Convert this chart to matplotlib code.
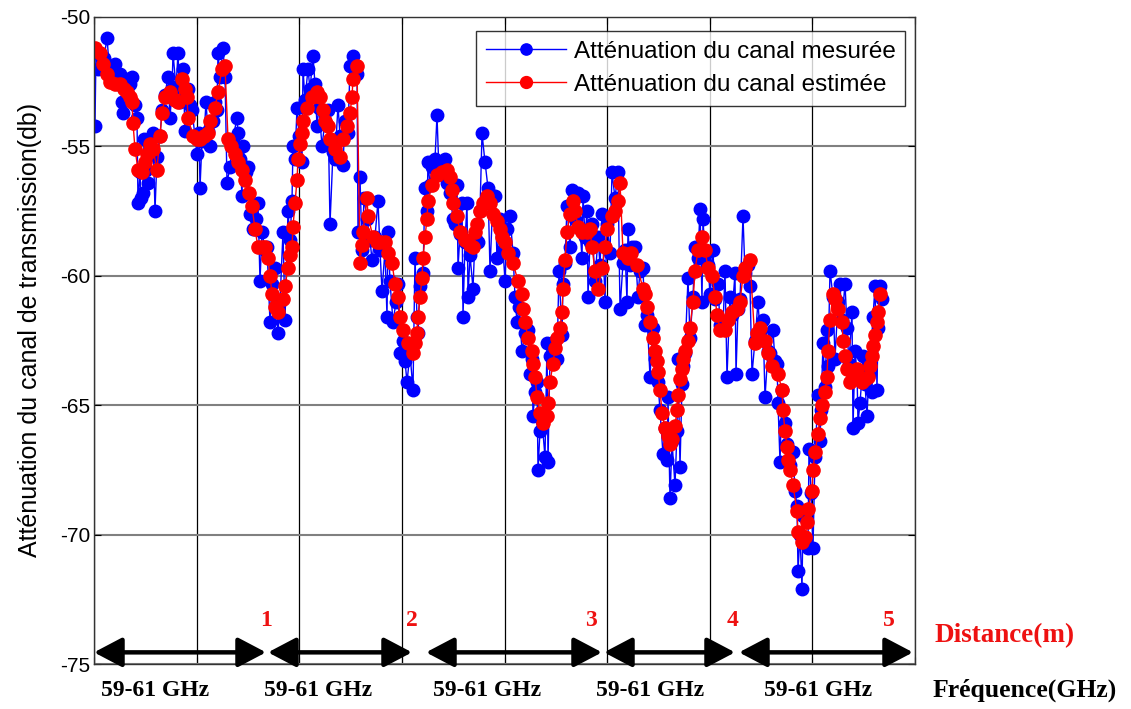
import matplotlib
matplotlib.use("Agg")
import matplotlib.pyplot as plt
import numpy as np
from matplotlib.transforms import blended_transform_factory

# (frequency sample index, attenuation in dB); 5 sweeps of 59-61 GHz placed end to end
measured = [
    (1, -54.2), (2, -51.3), (4, -52.0), (7, -51.5), (10, -51.6), (13, -50.8), (16, -52.3), (19, -52.0),
    (21, -51.8), (24, -52.6), (26, -52.2), (28, -53.3), (29, -53.7), (31, -52.5), (33, -52.4), (36, -52.6),
    (38, -52.3), (41, -53.4), (43, -53.9), (44, -57.2), (46, -56.0), (47, -57.0), (49, -56.8), (50, -54.7),
    (52, -55.9), (54, -56.4), (56, -55.2), (59, -54.5), (61, -57.5), (63, -55.4), (66, -54.6), (68, -53.6),
    (71, -53.0), (74, -52.3), (76, -53.9), (78, -52.8), (79, -51.4), (82, -52.7), (84, -51.4), (86, -53.3),
    (89, -52.0), (91, -54.4), (94, -52.8), (96, -53.4), (98, -53.6), (101, -54.6), (103, -55.3), (105, -54.5),
    (106, -56.6), (108, -54.8), (110, -54.6), (112, -53.3), (114, -54.4), (116, -55.0), (119, -54.0), (121, -53.3),
    (123, -53.6), (124, -51.4), (126, -52.3), (129, -51.2), (131, -52.3), (133, -56.4), (136, -55.8), (139, -54.7),
    (143, -53.9), (144, -54.5), (146, -55.5), (148, -56.9), (149, -55.0), (152, -56.0), (154, -55.8), (156, -57.6),
    (159, -58.2), (162, -57.8), (164, -57.2), (166, -60.2), (168, -58.3), (171, -59.0), (173, -58.9), (176, -61.8),
    (178, -60.3), (181, -59.7), (184, -62.2), (186, -61.0), (189, -58.3), (191, -61.7), (194, -57.5), (196, -58.6),
    (198, -57.1), (199, -55.0), (201, -55.5), (203, -53.5), (205, -54.6), (208, -55.6), (209, -52.0), (211, -53.2),
    (214, -52.0), (216, -52.8), (219, -51.5), (221, -52.6), (223, -54.2), (225, -53.5), (228, -55.0), (231, -54.0),
    (234, -53.6), (236, -58.0), (239, -55.2), (241, -55.5), (244, -53.4), (246, -54.6), (249, -55.7), (251, -54.0),
    (254, -54.5), (256, -51.9), (259, -51.5), (261, -52.0), (263, -52.2), (264, -58.3), (266, -56.2), (268, -59.0),
    (270, -57.0), (273, -57.8), (276, -58.6), (278, -59.4), (281, -58.5), (284, -57.1), (286, -59.0), (288, -60.6),
    (291, -59.0), (293, -61.6), (294, -58.3), (296, -60.2), (299, -61.8), (302, -61.0), (304, -60.3), (306, -63.0),
    (309, -62.5), (311, -63.3), (313, -64.1), (316, -63.0), (319, -64.4), (321, -59.3), (323, -61.6), (324, -62.2),
    (326, -60.4), (329, -59.9), (331, -56.6), (333, -57.5), (334, -55.6), (336, -56.5), (338, -55.8), (341, -55.5),
    (343, -53.8), (345, -56.0), (348, -55.7), (351, -55.5), (353, -56.4), (356, -56.8), (359, -57.8), (361, -58.0),
    (363, -56.5), (364, -59.7), (366, -58.4), (368, -57.2), (369, -61.6), (371, -58.7), (373, -57.2), (374, -60.8),
    (376, -59.2), (379, -60.5), (381, -58.5), (384, -58.7), (386, -57.5), (388, -54.5), (391, -55.6), (394, -56.6),
    (396, -59.8), (399, -56.9), (401, -56.9), (403, -59.3), (406, -57.8), (409, -59.0), (411, -60.2), (413, -58.2),
    (416, -57.7), (419, -59.1), (421, -60.8), (423, -61.8), (425, -61.2), (428, -62.9), (431, -62.2), (434, -62.1),
    (436, -63.8), (438, -63.2), (439, -65.4), (441, -64.5), (443, -64.1), (444, -67.5), (446, -66.0), (448, -65.6),
    (451, -67.0), (453, -62.6), (454, -67.2), (456, -63.1), (459, -62.6), (461, -62.5), (463, -63.2), (465, -59.8),
    (468, -62.3), (469, -60.3), (471, -59.5), (473, -57.3), (476, -58.9), (478, -56.7), (481, -57.8), (484, -56.8),
    (486, -58.2), (488, -59.3), (489, -56.9), (491, -58.5), (493, -57.5), (494, -60.8), (496, -58.7), (498, -58.0),
    (501, -60.2), (504, -58.5), (506, -59.6), (508, -57.6), (511, -61.0), (513, -58.0), (516, -59.1), (518, -56.0),
    (521, -57.0), (524, -56.0), (526, -61.3), (529, -59.5), (531, -59.0), (533, -61.0), (534, -58.2), (536, -59.6),
    (538, -58.9), (541, -58.9), (544, -60.8), (546, -59.8), (549, -59.7), (551, -61.9), (553, -61.5), (556, -63.9),
    (559, -62.0), (561, -63.2), (564, -64.1), (566, -65.2), (569, -66.9), (571, -65.9), (573, -67.1), (574, -64.7),
    (576, -68.6), (578, -66.4), (581, -68.1), (583, -66.0), (584, -63.2), (586, -67.4), (588, -64.2), (589, -63.5),
    (591, -63.0), (594, -60.1), (596, -62.4), (599, -60.8), (601, -58.9), (604, -59.3), (606, -57.4), (608, -61.0),
    (609, -57.8), (611, -59.2), (614, -59.6), (616, -60.7), (619, -59.0), (621, -60.9), (624, -60.3), (626, -61.9),
    (629, -62.0), (631, -59.8), (633, -63.9), (636, -60.8), (638, -61.5), (641, -59.9), (642, -63.8), (644, -61.3),
    (646, -60.9), (649, -57.7), (651, -59.9), (654, -59.6), (656, -60.4), (658, -63.8), (661, -62.5), (664, -61.0),
    (666, -62.2), (669, -61.7), (671, -64.7), (674, -62.9), (676, -63.0), (679, -62.1), (681, -63.3), (683, -63.4),
    (684, -64.9), (686, -67.2), (688, -64.4), (691, -65.7), (693, -66.5), (696, -67.3), (699, -66.8), (701, -68.3),
    (703, -68.9), (704, -71.4), (706, -70.0), (708, -72.1), (709, -69.3), (711, -70.2), (714, -70.5), (715, -66.7),
    (717, -68.4), (719, -70.5), (721, -67.0), (724, -64.6), (726, -66.4), (727, -65.2), (729, -62.6), (731, -64.3),
    (733, -62.1), (734, -63.5), (736, -59.8), (739, -60.8), (741, -63.2), (744, -61.0), (746, -60.3), (748, -61.7),
    (751, -60.3), (753, -62.0), (755, -63.4), (758, -61.4), (759, -65.9), (761, -62.9), (763, -63.7), (764, -65.7),
    (766, -64.9), (768, -63.9), (769, -63.1), (771, -64.2), (773, -65.4), (775, -63.8), (778, -64.5), (779, -61.6),
    (781, -60.4), (783, -64.4), (784, -62.0), (786, -60.4), (788, -60.9),
]

estimated = [
    (1, -51.2), (6, -51.4), (9, -51.8), (13, -52.2), (16, -52.5), (21, -52.6), (26, -52.6), (30, -52.8),
    (33, -52.9), (36, -53.1), (38, -53.3), (39, -54.1), (41, -55.1), (44, -55.9), (48, -56.0), (51, -55.6),
    (53, -55.3), (56, -54.9), (59, -55.1), (63, -55.9), (66, -54.6), (68, -53.7), (71, -53.1), (76, -52.9),
    (81, -53.2), (84, -53.3), (88, -52.4), (91, -52.8), (93, -53.1), (94, -53.9), (99, -54.6), (103, -54.7),
    (106, -54.7), (110, -54.6), (114, -54.5), (116, -54.0), (121, -53.5), (124, -52.9), (128, -52.0), (131, -51.9),
    (134, -54.7), (137, -55.0), (141, -55.3), (144, -55.6), (148, -55.9), (151, -56.3), (155, -56.8), (158, -57.3),
    (161, -58.2), (164, -58.9), (168, -58.9), (171, -58.9), (174, -59.3), (176, -60.0), (178, -60.7), (181, -61.2),
    (184, -61.4), (189, -60.9), (191, -60.4), (194, -59.7), (196, -59.2), (198, -58.9), (199, -58.1), (201, -57.2),
    (203, -56.3), (204, -55.5), (206, -54.9), (208, -54.5), (209, -54.0), (213, -53.5), (218, -53.1), (223, -52.9),
    (226, -53.1), (229, -53.6), (231, -54.0), (234, -54.2), (236, -54.7), (241, -55.1), (246, -55.4), (249, -54.7),
    (253, -54.2), (256, -53.7), (258, -53.1), (259, -52.4), (263, -51.9), (266, -59.5), (268, -58.8), (269, -58.3),
    (273, -57.0), (274, -57.7), (279, -58.5), (283, -58.7), (286, -58.7), (291, -58.7), (294, -59.1), (298, -59.5),
    (301, -60.3), (304, -60.8), (306, -61.6), (309, -62.1), (314, -62.6), (319, -63.0), (321, -62.6), (323, -62.2),
    (324, -61.6), (326, -60.8), (328, -60.1), (329, -59.3), (331, -58.5), (333, -57.8), (334, -57.1), (338, -56.5),
    (343, -56.1), (348, -56.0), (353, -55.9), (356, -56.2), (358, -56.7), (359, -57.2), (363, -57.7), (366, -58.3),
    (371, -58.6), (376, -58.8), (379, -58.9), (381, -58.3), (383, -58.0), (386, -57.5), (389, -57.2), (393, -56.9),
    (396, -57.2), (399, -57.6), (403, -57.9), (406, -58.2), (408, -58.5), (411, -58.7), (414, -59.1), (419, -59.5),
    (424, -60.2), (428, -60.7), (429, -61.3), (431, -61.8), (434, -62.4), (438, -62.9), (439, -63.4), (441, -63.9),
    (443, -64.7), (446, -65.3), (449, -65.7), (453, -65.4), (454, -64.9), (456, -64.1), (459, -63.4), (461, -62.8),
    (463, -62.4), (466, -62.0), (468, -61.4), (469, -60.5), (471, -59.4), (473, -58.3), (476, -57.6), (479, -57.1),
    (481, -57.5), (484, -58.1), (488, -58.3), (493, -58.3), (496, -58.2), (498, -58.9), (501, -59.8), (504, -60.5),
    (508, -59.7), (511, -58.9), (513, -58.2), (518, -57.7), (521, -57.5), (524, -57.1), (526, -56.4), (529, -59.1),
    (534, -59.3), (537, -59.1), (543, -59.6), (549, -60.5), (551, -60.7), (553, -61.2), (556, -61.8), (559, -62.4),
    (561, -62.9), (563, -63.3), (564, -63.7), (566, -64.4), (568, -65.3), (571, -65.9), (574, -66.2), (576, -66.5),
    (578, -66.3), (581, -65.8), (583, -65.2), (584, -64.6), (586, -64.0), (588, -63.6), (589, -63.2), (591, -62.9),
    (594, -62.5), (596, -62.0), (599, -61.0), (601, -59.8), (604, -59.0), (608, -58.5), (611, -59.0), (614, -59.7),
    (618, -60.0), (621, -60.8), (623, -61.5), (626, -62.1), (631, -62.1), (634, -61.7), (638, -61.4), (643, -61.3),
    (646, -61.0), (649, -60.0), (651, -59.7), (656, -59.4), (661, -62.6), (663, -62.2), (666, -62.0), (671, -62.5),
    (674, -63.0), (678, -63.5), (684, -63.8), (688, -64.4), (689, -65.2), (691, -66.0), (693, -66.6), (694, -67.1),
    (696, -67.5), (699, -68.1), (703, -69.1), (704, -69.9), (708, -70.3), (711, -70.1), (713, -69.5), (714, -69.0),
    (718, -68.3), (719, -67.5), (721, -66.8), (724, -66.1), (726, -65.5), (728, -65.0), (731, -64.5), (733, -63.9),
    (734, -62.9), (736, -61.7), (739, -60.7), (741, -60.9), (744, -61.3), (748, -61.8), (749, -62.5), (751, -63.1),
    (753, -63.6), (756, -64.1), (759, -63.9), (763, -63.6), (768, -64.1), (771, -64.0), (774, -63.9), (776, -63.5),
    (778, -63.1), (779, -62.7), (781, -62.3), (783, -61.8), (784, -61.4), (786, -60.7),
]

y_ticks = [-50, -55, -60, -65, -70, -75]
x_max = 821
distance_labels = ["1", "2", "3", "4", "5"]
distance_label_x = [172, 318, 497, 639, 795]
segment_bounds = [(0, 172), (174, 318), (332, 508), (510, 641), (645, 819)]
band_label = "59-61 GHz"
band_label_x = [61, 224, 393, 556, 724]

measured_x = [p[0] for p in measured]
measured_db = [p[1] for p in measured]
estimated_x = [p[0] for p in estimated]
estimated_db = [p[1] for p in estimated]

plt.rcParams['font.family'] = ['Liberation Sans', 'DejaVu Sans']
plt.rcParams['axes.unicode_minus'] = False

fig = plt.figure(figsize=(11.31, 7.09), dpi=100)
ax = fig.add_axes([94 / 1131, 1 - 664 / 709, 821 / 1131, 647 / 709])

ax.plot(measured_x, measured_db, '-o', color='#0000ff', lw=1.0, ms=9,
        label='Atténuation du canal mesurée')
ax.plot(estimated_x, estimated_db, '-o', color='#ff0000', lw=1.0, ms=9.5,
        label='Atténuation du canal estimée')

ax.set_xlim(0, x_max)
ax.set_ylim(-75, -50)
ax.set_xticks(np.linspace(0, x_max, 9))
ax.set_yticks(y_ticks)
ax.tick_params(direction='in', top=True, right=True, labelbottom=False,
               length=5, labelsize=15, color='black', pad=2.5)
ax.xaxis.grid(True, color='black', lw=0.9)
ax.yaxis.grid(True, color='#808080', lw=1.5)
ax.set_axisbelow(True)
for sp in ax.spines.values():
    sp.set_color('#333333')
    sp.set_linewidth(1.0)

ax.set_ylabel('Atténuation du canal de transmission(db)', fontsize=18)
ax.yaxis.set_label_coords(-0.063, 0.516)

leg = ax.legend(loc='upper right', bbox_to_anchor=(0.988, 0.978), fontsize=17.5,
                frameon=True, fancybox=False, handlelength=3.3, borderpad=0.4,
                labelspacing=0.45, handletextpad=0.3, borderaxespad=0,
                markerscale=0.9)
leg.get_frame().set_edgecolor('black')
leg.get_frame().set_linewidth(1.0)

# distance segments along the bottom
arrow_y = -74.55
for x0, x1 in segment_bounds:
    ax.annotate('', xy=(x1, arrow_y), xytext=(x0, arrow_y),
                arrowprops=dict(arrowstyle='<|-|>,head_length=0.95,head_width=0.5',
                                color='black', lw=3.2, shrinkA=0, shrinkB=0,
                                mutation_scale=18))
for lab, xx in zip(distance_labels, distance_label_x):
    ax.text(xx, -73.3, lab, color='#ee1111', fontsize=17, fontweight='bold',
            family='Liberation Serif', ha='center', va='center')

trans = blended_transform_factory(ax.transData, fig.transFigure)
for xx in band_label_x:
    ax.text(xx, 1 - 690 / 709, band_label, transform=trans, fontsize=17,
            fontweight='bold', family='Liberation Serif', ha='center', va='center',
            clip_on=False)

fig.text(1005 / 1131, 1 - 636 / 709, 'Distance(m)', color='#ee1111', fontsize=19.5,
         fontweight='bold', family='Liberation Serif', ha='center', va='center')
fig.text(1025 / 1131, 1 - 690 / 709, 'Fréquence(GHz)', color='black', fontsize=18.5,
         fontweight='bold', family='Liberation Serif', ha='center', va='center')

fig.savefig('out.png', dpi=100)
